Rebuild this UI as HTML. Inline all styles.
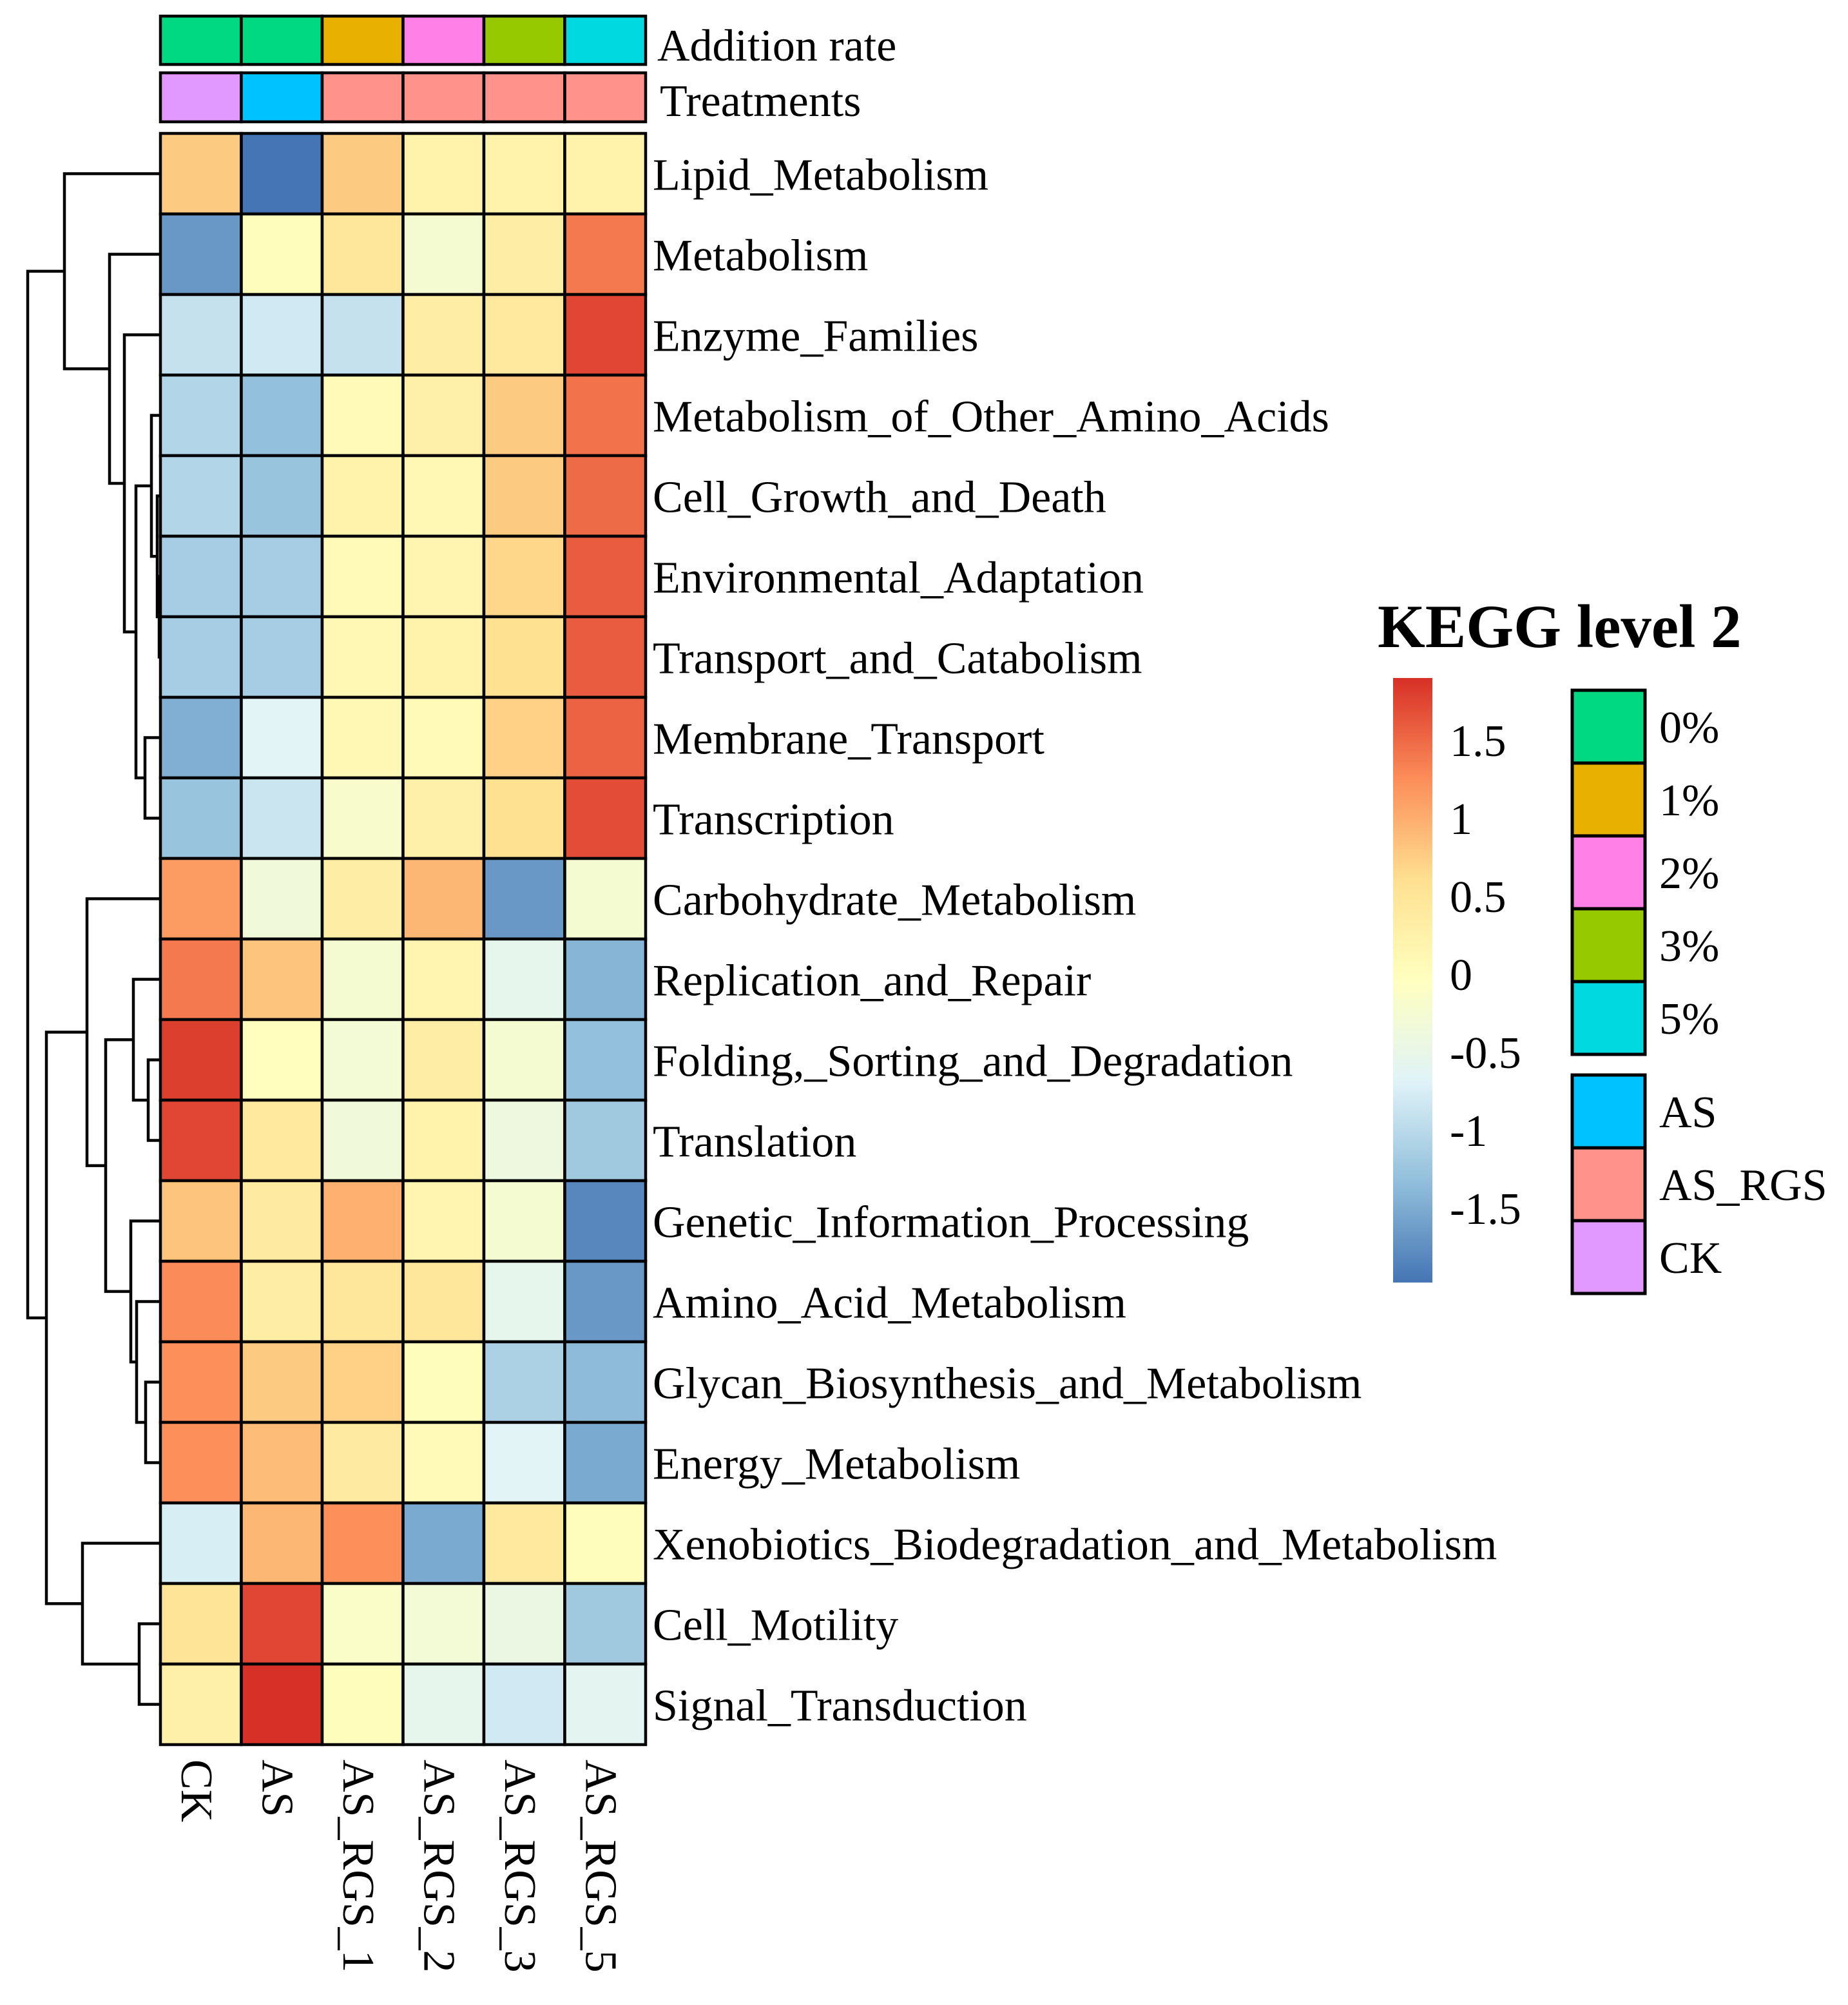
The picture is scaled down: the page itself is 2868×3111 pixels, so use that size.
<!DOCTYPE html>
<html><head><meta charset="utf-8"><style>
html,body{margin:0;padding:0;background:#fff;}
svg{display:block;font-family:"Liberation Serif",serif;}
</style></head><body>
<svg id="chart" width="2868" height="3111" viewBox="0 0 2868 3111" xmlns="http://www.w3.org/2000/svg">
<defs>
<linearGradient id="cbar" x1="0" y1="1" x2="0" y2="0">
<stop offset="0" stop-color="#4575B4"/><stop offset="0.1667" stop-color="#91BFDB"/><stop offset="0.3333" stop-color="#E0F3F8"/><stop offset="0.5" stop-color="#FFFFBF"/><stop offset="0.6667" stop-color="#FEE090"/><stop offset="0.8333" stop-color="#FC8D59"/><stop offset="1" stop-color="#D73027"/>
</linearGradient>
</defs>
<g id="dendro"></g>
<g id="annot"></g>
<g id="cells"></g>
<g id="rowlabels"></g>
<g id="collabels"></g>
<g id="legend">
<text x="2138" y="1004" font-size="95" font-weight="bold">KEGG level 2</text>
<rect x="2162" y="1052" width="61" height="938" fill="url(#cbar)"/>
</g>
</svg>
<script>
const rowNames = ["Lipid_Metabolism","Metabolism","Enzyme_Families","Metabolism_of_Other_Amino_Acids","Cell_Growth_and_Death","Environmental_Adaptation","Transport_and_Catabolism","Membrane_Transport","Transcription","Carbohydrate_Metabolism","Replication_and_Repair","Folding,_Sorting_and_Degradation","Translation","Genetic_Information_Processing","Amino_Acid_Metabolism","Glycan_Biosynthesis_and_Metabolism","Energy_Metabolism","Xenobiotics_Biodegradation_and_Metabolism","Cell_Motility","Signal_Transduction"];
const colNames = ["CK","AS","AS_RGS_1","AS_RGS_2","AS_RGS_3","AS_RGS_5"];
const values = [
[0.8,-1.9,0.8,0.25,0.25,0.25],
[-1.6,0.05,0.5,-0.2,0.35,1.4],
[-0.85,-0.75,-0.85,0.35,0.45,1.75],
[-1.0,-1.25,0.1,0.3,0.8,1.45],
[-1.0,-1.2,0.25,0.15,0.8,1.5],
[-1.1,-1.1,0.1,0.2,0.7,1.6],
[-1.1,-1.1,0.15,0.25,0.6,1.6],
[-1.4,-0.6,0.15,0.1,0.75,1.55],
[-1.2,-0.8,-0.15,0.3,0.6,1.7],
[1.15,-0.3,0.35,0.95,-1.6,-0.2],
[1.4,0.85,-0.2,0.2,-0.5,-1.35],
[1.8,0.02,-0.25,0.35,-0.2,-1.25],
[1.75,0.45,-0.3,0.25,-0.35,-1.15],
[0.85,0.4,1.0,0.2,-0.2,-1.75],
[1.28,0.35,0.5,0.5,-0.5,-1.6],
[1.25,0.8,0.75,0.05,-1.05,-1.3],
[1.25,0.9,0.4,0.1,-0.6,-1.45],
[-0.7,0.95,1.25,-1.45,0.45,0.05],
[0.55,1.75,-0.1,-0.25,-0.4,-1.15],
[0.3,1.9,0.05,-0.5,-0.75,-0.55]];
const additionRate = ["0%","0%","1%","2%","3%","5%"];
const treatments = ["CK","AS","AS_RGS","AS_RGS","AS_RGS","AS_RGS"];
const rateLevels = ["0%","1%","2%","3%","5%"];
const treatLevels = ["AS","AS_RGS","CK"];
const scaleTicks = [1.5,1,0.5,0,-0.5,-1,-1.5];
const scaleTickLabels = ["1.5","1","0.5","0","-0.5","-1","-1.5"];
const merges = [
[5,6,247],[4,"n0",244],[3,"n1",235],[7,8,225],["n2","n3",211],[2,"n4",193],[1,"n5",170],[0,"n6",100],
[18,19,216],[17,"n8",128],[15,16,226],[14,"n10",212],[13,"n11",203],[11,12,230],[10,"n13",207],["n14","n12",164],[9,"n15",135],["n16","n9",72],
["n7","n17",43]];

const NS="http://www.w3.org/2000/svg";
const X0=249, Y0=207, CW=125.5, RH=125;
const FS=70;
const rateColors={"0%":"#00D982","1%":"#E8B000","2%":"#FF80E6","3%":"#97C900","5%":"#00D9E0"};
const treatColors={"AS":"#00C2FF","AS_RGS":"#FF928A","CK":"#E199FF"};
const stops=[[-1.9,[69,117,180]],[-1.267,[145,191,219]],[-0.633,[224,243,248]],[0,[255,255,191]],[0.633,[254,224,144]],[1.267,[252,141,89]],[1.9,[215,48,39]]];
function colorFor(v){
  v=Math.max(-1.9,Math.min(1.9,v));
  for(let i=0;i<stops.length-1;i++){
    const a=stops[i],b=stops[i+1];
    if(v<=b[0]){const t=(v-a[0])/(b[0]-a[0]);
      const c=a[1].map((x,k)=>Math.round(x+(b[1][k]-x)*t));
      return `rgb(${c[0]},${c[1]},${c[2]})`;}
  }
  return "rgb(215,48,39)";
}
function xCol(j){return X0+j*CW;}
function yRow(i){return Y0+i*RH;}
function mk(tag,attrs,parent){const e=document.createElementNS(NS,tag);for(const k in attrs)e.setAttribute(k,attrs[k]);parent.appendChild(e);return e;}

const cells=document.getElementById('cells');
values.forEach((row,i)=>row.forEach((v,j)=>{
  const r=mk('rect',{x:xCol(j),y:yRow(i),width:CW,height:RH,fill:colorFor(v),stroke:'#000','stroke-width':4.5},cells);
  
  
}));
const annot=document.getElementById('annot');
additionRate.forEach((a,j)=>{
  const r=mk('rect',{x:xCol(j),y:25,width:CW,height:75,fill:rateColors[a],stroke:'#000','stroke-width':4.5},annot);
  
  
});
treatments.forEach((a,j)=>{
  const r=mk('rect',{x:xCol(j),y:113,width:CW,height:76,fill:treatColors[a],stroke:'#000','stroke-width':4.5},annot);
  
  
});
let t=mk('text',{x:1020,y:94,'font-size':FS},annot);t.textContent="Addition rate";


t=mk('text',{x:1024,y:180,'font-size':FS},annot);t.textContent="Treatments";



const rl=document.getElementById('rowlabels');
rowNames.forEach((n,i)=>{
  const e=mk('text',{x:1013,y:yRow(i)+RH/2+25,'font-size':FS},rl);
  e.textContent=n;
  
  
});
const cl=document.getElementById('collabels');
colNames.forEach((n,j)=>{
  const x=xCol(j)+CW/2-30, y=2730;
  const e=mk('text',{x:x,y:y,'font-size':FS,transform:`rotate(90 ${x} ${y})`},cl);
  e.textContent=n;
  
  
});
const dg=document.getElementById('dendro');
const nodeY={}, nodeX={};
function pos(c){ if(typeof c==='number') return [X0, yRow(c)+RH/2]; return [nodeX[c],nodeY[c]]; }
merges.forEach((m,k)=>{
  const a=pos(m[0]), b=pos(m[1]), h=m[2];
  const id="n"+k;
  nodeX[id]=h; nodeY[id]=(a[1]+b[1])/2;
  const p=mk('path',{d:`M${a[0]},${a[1]}H${h}V${b[1]}H${b[0]}`,fill:'none',stroke:'#000','stroke-width':4.5},dg);
  
  
});
const lg=document.getElementById('legend');
scaleTicks.forEach((v,i)=>{
  const e=mk('text',{x:2250,y:1536-242*v,'font-size':FS},lg);
  e.textContent=scaleTickLabels[i];
  
  
});
rateLevels.forEach((l,i)=>{
  const y=1071+i*113;
  const r=mk('rect',{x:2440,y:y,width:113,height:113,fill:rateColors[l],stroke:'#000','stroke-width':5},lg);
  
  
  const e=mk('text',{x:2575,y:y+56+25,'font-size':FS},lg);e.textContent=l;
  
  
});
treatLevels.forEach((l,i)=>{
  const y=1668+i*113;
  const r=mk('rect',{x:2440,y:y,width:113,height:113,fill:treatColors[l],stroke:'#000','stroke-width':5},lg);
  
  
  const e=mk('text',{x:2575,y:y+56+25,'font-size':FS},lg);e.textContent=l;
  
  
});
</script>
</body></html>
